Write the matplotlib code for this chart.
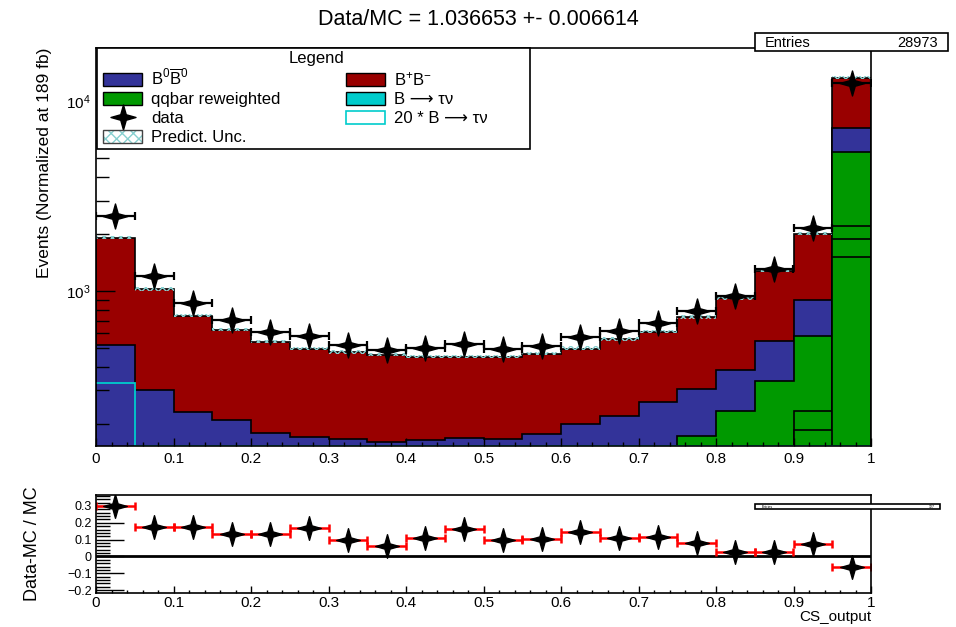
import numpy as np
import matplotlib.pyplot as plt
from matplotlib.path import Path
from matplotlib.patches import Patch, Rectangle
from matplotlib.lines import Line2D
from matplotlib.ticker import MultipleLocator, LogLocator, NullFormatter

plt.rcParams['font.family'] = ['Liberation Sans', 'DejaVu Sans']
plt.rcParams['mathtext.fontset'] = 'custom'
plt.rcParams['mathtext.rm'] = 'Liberation Sans'
plt.rcParams['mathtext.default'] = 'regular'

# CS_output binning: 20 bins between 0 and 1
edges = np.linspace(0.0, 1.0, 21)

# MC samples, events per bin (normalised to 189 fb)
btaunu = np.array([16.4, 3.5, 2.0, 1.5, 1.2, 1.0, 0.9, 0.8, 0.7, 0.7,
                   0.6, 0.6, 0.5, 0.5, 0.5, 0.4, 0.4, 0.3, 0.3, 0.3])
qq_1 = np.array([6, 7, 8, 9, 10, 11, 13, 14, 16, 18,
                 21, 24, 28, 34, 44, 60, 80, 100, 120, 1516])
qq_2 = np.array([2, 2, 2, 3, 3, 3, 4, 4, 5, 5,
                 6, 7, 8, 10, 13, 20, 20, 20, 65, 377])
qq_3 = np.array([2, 2, 2, 2, 3, 3, 3, 4, 4, 5,
                 5, 6, 7, 8, 11, 20, 30, 20, 47, 307])
qq_4 = np.array([5, 7, 8, 8, 9, 11, 12, 14, 15, 18,
                 20, 23, 27, 33, 42, 73, 102, 197, 350, 3210])
b0b0 = np.array([489, 280, 210, 185, 152, 142, 134, 124, 123, 121,
                 113, 117, 129, 134, 150, 131, 152, 210, 315, 1840])
bpbm = np.array([1386, 720, 506, 415, 363, 324, 309, 299, 287, 283,
                 285, 288, 299, 337, 350, 423, 531, 732, 1098, 6020])
data = np.array([2480, 1198, 866, 707, 612, 578, 522, 488, 501, 525,
                 494, 515, 572, 617, 681, 786, 941, 1310, 2140, 12450])
n_entries = 28973

C_BLUE = '#333399'
C_RED = '#990000'
C_GREEN = '#009900'
C_CYAN = '#00cccc'
C_HATCH = '#88d0d0'

# four pointed star like ROOT marker
star = Path([(0, 1), (0.22, 0.22), (1, 0), (0.22, -0.22), (0, -1),
             (-0.22, -0.22), (-1, 0), (-0.22, 0.22), (0, 1)],
            [Path.MOVETO] + [Path.LINETO] * 7 + [Path.CLOSEPOLY])

W, H = 956, 627
fig = plt.figure(figsize=(W / 100, H / 100), dpi=100)
ax = fig.add_axes([96 / W, 1 - 446 / H, 775 / W, 398 / H])
rax = fig.add_axes([96 / W, 1 - 593 / H, 775 / W, 98 / H])

ymin, ymax = 152.8, 19100
floor = 1.0

# cumulative stack levels
lvl_tau = btaunu
lvl_q1 = lvl_tau + qq_1
lvl_q2 = lvl_q1 + qq_2
lvl_q3 = lvl_q2 + qq_3
lvl_qq = lvl_q3 + qq_4
lvl_b0 = lvl_qq + b0b0
lvl_tot = lvl_b0 + bpbm

for lvl, col in [(lvl_tot, C_RED), (lvl_b0, C_BLUE), (lvl_qq, C_GREEN),
                 (lvl_q3, C_GREEN), (lvl_q2, C_GREEN), (lvl_q1, C_GREEN),
                 (lvl_tau, C_CYAN)]:
    ax.stairs(lvl, edges, baseline=floor, fill=True, color=col, lw=0)
    ax.stairs(lvl, edges, baseline=floor, color='black', lw=1.2)

# scaled signal outline, kept at the axis floor where it drops below
ax.stairs(np.clip(20 * btaunu, ymin * 1.005, None), edges, baseline=None,
          color=C_CYAN, lw=1.3)

# MC uncertainty band
ax.stairs(lvl_tot * 1.025, edges, baseline=lvl_tot * 0.985, fill=True,
          facecolor='none', edgecolor=C_HATCH, hatch='xxxx', lw=0)

centers = 0.5 * (edges[:-1] + edges[1:])
half = 0.5 * np.diff(edges)
ax.errorbar(centers, data, yerr=np.sqrt(data), fmt='none',
            ecolor='black', elinewidth=1.6)
ax.errorbar(centers, data, xerr=half, fmt='none',
            ecolor='black', elinewidth=1.6, capsize=3, capthick=1.6)
ax.plot(centers, data, linestyle='none', marker=star, ms=18,
        color='black')

ax.set_yscale('log')
ax.set_xlim(0, 1)
ax.set_ylim(ymin, ymax)
ax.xaxis.set_major_locator(MultipleLocator(0.1))
ax.xaxis.set_minor_locator(MultipleLocator(0.02))
ax.yaxis.set_major_locator(LogLocator(base=10))
ax.yaxis.set_minor_locator(LogLocator(base=10, subs=np.arange(2, 10)))
ax.yaxis.set_minor_formatter(NullFormatter())
ax.xaxis.set_major_formatter(lambda v, p: f'{v:g}')
ax.tick_params(which='both', direction='in', top=False, right=False,
               labelsize=11, width=1)
ax.tick_params(axis='y', which='major', length=14, pad=4)
ax.tick_params(axis='y', which='minor', length=9)
ax.tick_params(axis='x', which='major', length=6, pad=4)
ax.tick_params(axis='x', which='minor', length=3)
ax.set_ylabel('Events (Normalized at 189 fb)', loc='top', fontsize=12.5,
              labelpad=10)
for s in ax.spines.values():
    s.set_linewidth(1.2)

# ratio panel
ratio = data / lvl_tot - 1
rax.axhline(0, color='black', lw=2)
rax.errorbar(centers, ratio, xerr=half, fmt='none', ecolor='red',
             elinewidth=1.8, capsize=3, capthick=1.8)
rax.plot(centers, ratio, linestyle='none', marker=star, ms=17,
         color='black')
rax.set_xlim(0, 1)
rax.set_ylim(-0.217, 0.365)
rax.xaxis.set_major_locator(MultipleLocator(0.1))
rax.xaxis.set_minor_locator(MultipleLocator(0.02))
rax.yaxis.set_major_locator(MultipleLocator(0.1))
rax.yaxis.set_minor_locator(MultipleLocator(0.02))
rax.xaxis.set_major_formatter(lambda v, p: f'{v:g}')
rax.yaxis.set_major_formatter(lambda v, p: f'{v:.1f}'.replace('-', '\u2212') if abs(v) > 1e-9 else '0')
rax.tick_params(which='both', direction='in', top=False, right=False, width=1)
rax.tick_params(axis='y', which='major', length=20, labelsize=9, pad=3)
rax.tick_params(axis='y', which='minor', length=10)
rax.tick_params(axis='x', which='major', length=5, labelsize=11, pad=2)
rax.tick_params(axis='x', which='minor', length=2.5)
rax.set_ylabel('Data-MC / MC', fontsize=13, labelpad=19)
rax.set_xlabel('CS_output', fontsize=11, loc='right', labelpad=0)
for s in rax.spines.values():
    s.set_linewidth(1.2)

fig.suptitle('Data/MC = 1.036653 +- 0.006614', fontsize=15.5, y=0.985)

# legend: frame and title drawn on the figure, entries placed by matplotlib
fig.patches.append(Rectangle((97 / W, 1 - 149 / H), 433 / W, 101 / H,
                             transform=fig.transFigure, facecolor='white',
                             edgecolor='black', lw=1.2, zorder=5))
fig.text(316 / W, 1 - 58 / H, 'Legend', ha='center', va='center',
         fontsize=12, zorder=6)
unc_handle = (Patch(facecolor='white', edgecolor=C_HATCH, hatch='xxx', lw=0),
              Patch(facecolor='none', edgecolor='#444444', lw=1))
handles = [Patch(facecolor=C_BLUE, edgecolor='black'),
           Patch(facecolor=C_GREEN, edgecolor='black'),
           Line2D([], [], linestyle='none', marker=star, ms=18, color='black'),
           unc_handle,
           Patch(facecolor=C_RED, edgecolor='black'),
           Patch(facecolor=C_CYAN, edgecolor='black'),
           Patch(facecolor='white', edgecolor=C_CYAN, lw=1.2)]
labels = [r'B$^{0}\overline{\mathrm{B}}^{0}$', 'qqbar reweighted', 'data',
          'Predict. Unc.', r'B$^{+}$B$^{-}$', 'B \u27f6 \u03c4\u03bd',
          '20 * B \u27f6 \u03c4\u03bd']
leg = fig.legend(handles, labels, ncol=2, loc='upper left',
                 bbox_to_anchor=(103 / W, 1 - 68 / H), frameon=False,
                 fontsize=12, handlelength=2.35, handleheight=0.85,
                 handletextpad=0.55, labelspacing=0.22, columnspacing=3.9,
                 borderpad=0, borderaxespad=0)
leg.set_zorder(7)

# statistics boxes
fig.patches.append(Rectangle((755 / W, 1 - 51 / H), 193 / W, 18 / H,
                             transform=fig.transFigure, facecolor='white',
                             edgecolor='black', lw=1.2, zorder=5))
fig.text(765 / W, 1 - 43 / H, 'Entries', fontsize=10.5, va='center', zorder=6)
fig.text(938 / W, 1 - 43 / H, f'{n_entries}', fontsize=10.5, va='center',
         ha='right', zorder=6)
fig.patches.append(Rectangle((755 / W, 1 - 509 / H), 185 / W, 5 / H,
                             transform=fig.transFigure, facecolor='white',
                             edgecolor='black', lw=1.2, zorder=5))
fig.text(762 / W, 1 - 506.5 / H, 'Entries', fontsize=2.5, va='center', zorder=6)
fig.text(935 / W, 1 - 506.5 / H, '127', fontsize=2.5, va='center',
         ha='right', zorder=6)

fig.savefig('out.png', dpi=100)
